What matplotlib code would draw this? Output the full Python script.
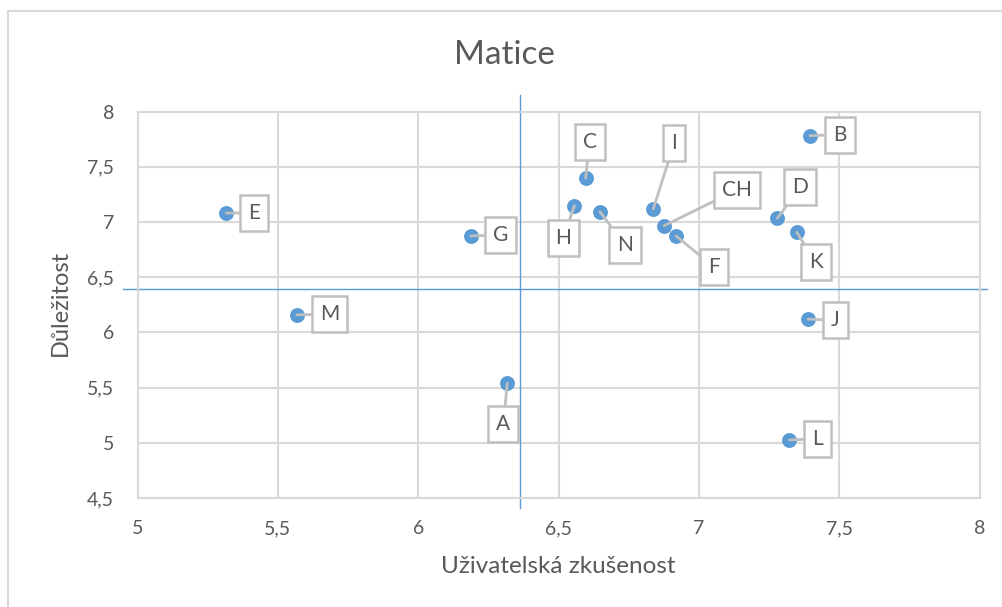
import matplotlib.pyplot as plt
from matplotlib.patches import Rectangle

plt.rcParams['font.family'] = ['Lato', 'DejaVu Sans']

# data
names = ['A', 'B', 'C', 'CH', 'D', 'E', 'F', 'G', 'H', 'I', 'J', 'K', 'L', 'M', 'N']
ux = [6.317, 7.395, 6.596, 6.876, 7.279, 5.316, 6.918, 6.187, 6.556, 6.837, 7.389, 7.348, 7.322, 5.567, 6.647]
imp = [5.540, 7.783, 7.399, 6.967, 7.034, 7.082, 6.874, 6.874, 7.149, 7.119, 6.120, 6.908, 5.026, 6.159, 7.094]
x_split = 6.362
y_split = 6.39
xticks = [5, 5.5, 6, 6.5, 7, 7.5, 8]
yticks = [4.5, 5, 5.5, 6, 6.5, 7, 7.5, 8]

# callout offsets in pixels (layout only)
offsets = {'A': (-4, -41), 'B': (30, 1), 'C': (4, 36), 'CH': (73, 36), 'D': (23, 31),
           'E': (28, 0), 'F': (38, -31), 'G': (30, 1), 'H': (-11, -32), 'I': (21, 66),
           'J': (27, -1), 'K': (19, -30), 'L': (28, 1), 'M': (33, 1), 'N': (25, -33)}

txt = '#595959'
grid = '#d9d9d9'
blue = '#5b9bd5'

fig = plt.figure(figsize=(10.03, 6.07), dpi=100)
ax = fig.add_axes([0.1372, 0.1796, 0.8396, 0.6364])

ax.set_xlim(5, 8)
ax.set_ylim(4.5, 8)
ax.set_xticks(xticks)
ax.set_yticks(yticks)
fmt = lambda v: ('%g' % v).replace('.', ',')
ax.set_xticklabels([fmt(v) for v in xticks])
ax.set_yticklabels([fmt(v) for v in yticks])
ax.tick_params(length=0, labelsize=14, labelcolor=txt)
ax.tick_params(axis='x', pad=16)
ax.tick_params(axis='y', pad=17)
ax.grid(True, color=grid, lw=1.5)
ax.set_axisbelow(True)
for s in ax.spines.values():
    s.set_color(grid)
    s.set_linewidth(1.5)

# quadrant lines, a bit longer than the plot area
ax.plot([x_split, x_split], [4.41, 8.15], color=blue, lw=1, clip_on=False, zorder=2)
ax.plot([4.948, 8.026], [y_split, y_split], color=blue, lw=1, clip_on=False, zorder=2)

ax.scatter(ux, imp, s=115, color=blue, zorder=4, linewidths=0)

for n, x, y in zip(names, ux, imp):
    ax.annotate(n, (x, y), xytext=offsets[n], textcoords='offset pixels',
                ha='center', va='center', fontsize=15, color=txt, zorder=5,
                bbox=dict(boxstyle='square,pad=0.38', fc='white', ec='#bfbfbf', lw=1.8),
                arrowprops=dict(arrowstyle='-', color='#bfbfbf', lw=2, shrinkA=0, shrinkB=0))

fig.text(0.5025, 0.909, 'Matice', ha='center', va='center', fontsize=24, color=txt)
fig.text(0.5563, 0.0659, 'Uživatelská zkušenost', ha='center', va='center', fontsize=17.5, color=txt)
fig.text(0.0598, 0.5008, 'Důležitost', ha='center', va='center', rotation=90, fontsize=17, color=txt)

fig.patches.append(Rectangle((0.008, -0.1), 1.1, 1.1 - 11 / 607, transform=fig.transFigure,
                             fill=False, ec=grid, lw=1.5))

fig.savefig('out.png', dpi=100)
